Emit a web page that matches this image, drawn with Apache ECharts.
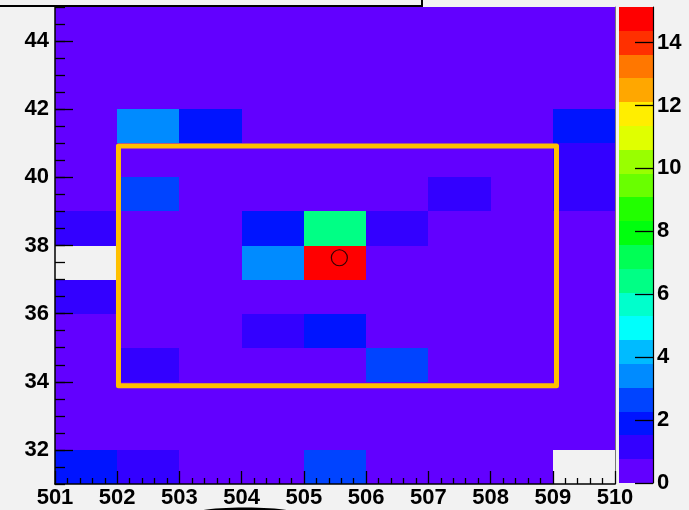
<!DOCTYPE html>
<html>
<head>
<meta charset="utf-8">
<script src="https://cdn.jsdelivr.net/npm/echarts@6/dist/echarts.min.js"></script>
<style>
  html, body { margin: 0; padding: 0; background: #f2f2f2; }
  #chart { width: 689px; height: 510px; }
</style>
</head>
<body>
<div id="chart"></div>
<script>
// Lower edges of the x bins (each bin is 1 wide)
const xBins = [501, 502, 503, 504, 505, 506, 507, 508, 509];
// Lower edges of the y bins, listed top row first (each bin is 1 tall)
const yBins = [44, 43, 42, 41, 40, 39, 38, 37, 36, 35, 34, 33, 32, 31];
// Bin contents, one row per entry of yBins, one column per entry of xBins (0 = empty bin)
const cellValues = [
  [0.38, 0.38, 0.38, 0.38, 0.38, 0.38, 0.38, 0.38, 0.38],
  [0.38, 0.38, 0.38, 0.38, 0.38, 0.38, 0.38, 0.38, 0.38],
  [0.38, 0.38, 0.38, 0.38, 0.38, 0.38, 0.38, 0.38, 0.38],
  [0.38, 3.40, 1.89, 0.38, 0.38, 0.38, 0.38, 0.38, 1.89],
  [0.38, 0.38, 0.38, 0.38, 0.38, 0.38, 0.38, 0.38, 1.13],
  [0.38, 2.65, 0.38, 0.38, 0.38, 0.38, 1.13, 0.38, 1.13],
  [1.13, 0.38, 0.38, 1.89, 6.43, 1.13, 0.38, 0.38, 0.38],
  [0,    0.38, 0.38, 3.40, 15.13, 0.38, 0.38, 0.38, 0.38],
  [1.13, 0.38, 0.38, 0.38, 0.38, 0.38, 0.38, 0.38, 0.38],
  [0.38, 0.38, 0.38, 1.13, 1.89, 0.38, 0.38, 0.38, 0.38],
  [0.38, 1.13, 0.38, 0.38, 0.38, 2.65, 0.38, 0.38, 0.38],
  [0.38, 0.38, 0.38, 0.38, 0.38, 0.38, 0.38, 0.38, 0.38],
  [0.38, 0.38, 0.38, 0.38, 0.38, 0.38, 0.38, 0.38, 0.38],
  [1.89, 1.13, 0.38, 0.38, 2.65, 0.38, 0.38, 0.38, 0]
];
// Colour scale top (largest bin content)
const zMax = 15.13;
// 20 contour colours, lowest level first
const palette = [
  '#6200ff', '#3300ff', '#0014ff', '#0044ff', '#008bff',
  '#00bbff', '#00fffc', '#00ffcc', '#00ff85', '#00ff55',
  '#00ff0e', '#22ff00', '#69ff00', '#99ff00', '#e0ff00',
  '#ffee00', '#ffa700', '#ff7700', '#ff3000', '#ff0000'
];
// Axis ranges and labelled ticks
const xRange = [501, 510];
const yRange = [31, 45];
const yLabelTicks = [32, 34, 36, 38, 40, 42, 44];
const zLabelTicks = [0, 2, 4, 6, 8, 10, 12, 14];
// Selection box (x0, x1, y0, y1) and the marked point
const boxX = [502.02, 509.06];
const boxY = [33.88, 40.92];
const markPoint = [505.57, 37.64];

const nLevels = palette.length;
const levelStep = zMax / nLevels;
function levelColor(v) {
  let k = Math.floor(v / levelStep);
  if (k >= nLevels) k = nLevels - 1;
  if (k < 0) k = 0;
  return palette[k];
}

const cellData = [];
yBins.forEach((yb, r) => {
  xBins.forEach((xb, c) => {
    const v = cellValues[r][c];
    if (v > 0) cellData.push([xb, yb, v]);
  });
});
const bandData = palette.map((_, k) => [k]);
const boxPath = [
  [boxX[0], boxY[1]], [boxX[1], boxY[1]], [boxX[1], boxY[0]],
  [boxX[0], boxY[0]], [boxX[0], boxY[1]]
];

const FONT = '"Liberation Sans", Arial, Helvetica, sans-serif';
const labelStyle = { color: '#000', fontFamily: FONT, fontWeight: 'bold', fontSize: 22 };
const tickLine = { color: '#000', width: 1.3 };

// Snap a rectangle to whole pixels so neighbouring cells meet without seams
function pixelRect(p0, p1) {
  const x0 = Math.round(p0[0]), x1 = Math.round(p1[0]);
  const y0 = Math.round(p0[1]), y1 = Math.round(p1[1]);
  return { x: x0, y: y0, width: x1 - x0, height: y1 - y0 };
}

const chart = echarts.init(document.getElementById('chart'), null, { renderer: 'canvas' });
chart.setOption({
  animation: false,
  backgroundColor: '#f2f2f2',
  grid: [
    { left: 55, top: 7, width: 560, height: 477 },
    { left: 619, top: 7, width: 34, height: 476 }
  ],
  xAxis: [
    {
      gridIndex: 0, type: 'value', position: 'bottom', min: xRange[0], max: xRange[1], interval: 1, z: 10,
      axisLine: { show: true, onZero: false, lineStyle: { color: '#000', width: 1.5 } },
      axisTick: { show: true, inside: true, length: 13, lineStyle: tickLine },
      minorTick: { show: true, splitNumber: 5, length: 6, lineStyle: tickLine },
      axisLabel: Object.assign({ margin: 3 }, labelStyle),
      splitLine: { show: false }
    },
    {
      gridIndex: 1, type: 'value', min: 0, max: 1, show: false
    }
  ],
  yAxis: [
    {
      gridIndex: 0, type: 'value', position: 'left', min: yRange[0], max: yRange[1], z: 10,
      axisLine: { show: true, onZero: false, lineStyle: { color: '#000', width: 1.5 } },
      axisTick: { show: true, inside: true, length: 18, customValues: yLabelTicks, lineStyle: tickLine },
      axisLabel: Object.assign({ margin: 6, customValues: yLabelTicks }, labelStyle),
      splitLine: { show: false }
    },
    {
      gridIndex: 0, type: 'value', position: 'left', min: yRange[0], max: yRange[1], interval: 0.5, z: 10,
      axisLine: { show: false },
      axisTick: { show: true, inside: true, length: 10, lineStyle: tickLine },
      axisLabel: { show: false },
      splitLine: { show: false }
    },
    {
      gridIndex: 0, type: 'value', position: 'right', min: yRange[0], max: yRange[1], z: 10,
      axisLine: { show: true, onZero: false, lineStyle: { color: '#777', width: 1 } },
      axisTick: { show: false }, axisLabel: { show: false }, splitLine: { show: false }
    },
    {
      gridIndex: 1, type: 'value', position: 'right', min: 0, max: zMax, z: 10,
      axisLine: { show: true, onZero: false, lineStyle: { color: '#000', width: 1.2 } },
      axisTick: { show: true, inside: true, length: 18, customValues: zLabelTicks, lineStyle: tickLine },
      axisLabel: Object.assign({ margin: 4, customValues: zLabelTicks }, labelStyle),
      splitLine: { show: false }
    }
  ],
  series: [
    {
      name: 'cells', type: 'custom', xAxisIndex: 0, yAxisIndex: 0, silent: true,
      encode: { x: 0, y: 1 },
      data: cellData,
      renderItem: function (params, api) {
        const x = api.value(0), y = api.value(1), v = api.value(2);
        return {
          type: 'rect',
          shape: pixelRect(api.coord([x, y + 1]), api.coord([x + 1, y])),
          style: { fill: levelColor(v) }
        };
      },
      z: 1
    },
    {
      name: 'box', type: 'line', xAxisIndex: 0, yAxisIndex: 0, silent: true,
      data: boxPath, symbol: 'none',
      lineStyle: { color: '#ffc000', width: 5, join: 'round', cap: 'round' },
      z: 3
    },
    {
      name: 'point', type: 'scatter', xAxisIndex: 0, yAxisIndex: 0, silent: true,
      data: [markPoint], symbol: 'circle', symbolSize: 16,
      itemStyle: { color: 'rgba(0,0,0,0)', borderColor: '#000', borderWidth: 1.2 },
      z: 4
    },
    {
      name: 'palette', type: 'custom', xAxisIndex: 1, yAxisIndex: 3, silent: true,
      encode: { y: 0 },
      data: bandData,
      renderItem: function (params, api) {
        const k = api.value(0);
        return {
          type: 'rect',
          shape: pixelRect(api.coord([0, (k + 1) * levelStep]), api.coord([1, k * levelStep])),
          style: { fill: palette[k] }
        };
      },
      z: 1
    }
  ],
  graphic: [
    {
      type: 'rect', z: 100,
      shape: { x: -4, y: -30, width: 426, height: 36 },
      style: { fill: '#f2f2f2', stroke: '#000', lineWidth: 2 }
    },
    {
      type: 'ellipse', z: 100,
      shape: { cx: 245, cy: 512.5, rx: 48, ry: 5 },
      style: { fill: '#000' }
    }
  ]
});
</script>
</body>
</html>
